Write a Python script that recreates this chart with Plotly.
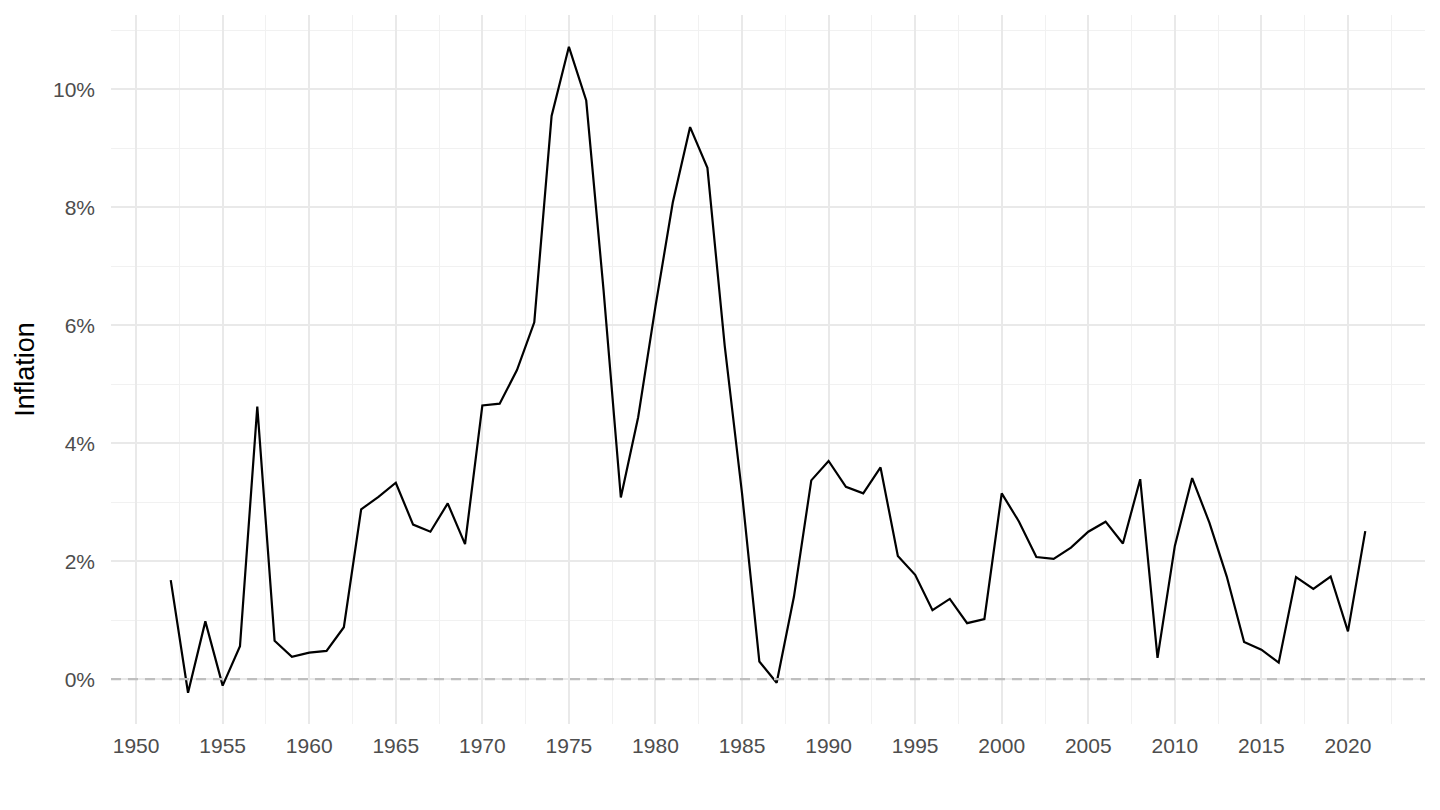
import plotly.graph_objects as go

# annual inflation, percent
years = list(range(1952, 2022))
inflation = [
    1.68, -0.23, 0.98, -0.11, 0.56, 4.62, 0.65, 0.38,          # 1952-1959
    0.45, 0.48, 0.88, 2.88, 3.09, 3.33, 2.62, 2.50, 2.98, 2.29,  # 1960s
    4.64, 4.67, 5.24, 6.05, 9.55, 10.72, 9.81, 6.60, 3.08, 4.44, # 1970s
    6.32, 8.08, 9.36, 8.67, 5.65, 3.15, 0.30, -0.06, 1.40, 3.37, # 1980s
    3.70, 3.26, 3.15, 3.59, 2.09, 1.77, 1.17, 1.36, 0.95, 1.02,  # 1990s
    3.15, 2.67, 2.07, 2.04, 2.23, 2.50, 2.67, 2.30, 3.39, 0.36,  # 2000s
    2.26, 3.41, 2.65, 1.74, 0.63, 0.50, 0.28, 1.73, 1.53, 1.74,  # 2010s
    0.81, 2.51,                                                  # 2020-2021
]

MAJOR = "#e9e9e9"
MINOR = "#f1f1f1"
FONT = "Liberation Sans, Arial, sans-serif"
TICK_FONT = dict(family=FONT, size=21, color="#4d4d4d")

fig = go.Figure()
fig.add_trace(go.Scatter(
    x=years, y=inflation, mode="lines",
    line=dict(color="black", width=2.2),
    showlegend=False,
))

# dashed reference line at 0 % (drawn above, otherwise the 0 % gridline hides it)
fig.add_hline(y=0, line=dict(color="#bebebe", width=2.2, dash="10px,7px"), layer="above")

# the page body adds an 8px margin, so the figure is a bit smaller than the window
fig.update_layout(
    width=1432, height=802,
    paper_bgcolor="white", plot_bgcolor="white",
    margin=dict(l=103, r=15, t=7, b=86),
    xaxis=dict(
        range=[1948.55, 2024.45],
        tick0=1950, dtick=5,
        showgrid=True, gridcolor=MAJOR, gridwidth=1.8,
        minor=dict(dtick=2.5, showgrid=True, gridcolor=MINOR, gridwidth=1.1),
        zeroline=False, showline=False, ticks="",
        tickfont=TICK_FONT, ticklabelstandoff=7,
    ),
    yaxis=dict(
        range=[-0.76, 11.26],
        tick0=0, dtick=2, ticksuffix="%",
        showgrid=True, gridcolor=MAJOR, gridwidth=1.8,
        minor=dict(dtick=1, showgrid=True, gridcolor=MINOR, gridwidth=1.1),
        zeroline=False, showline=False, ticks="",
        tickfont=TICK_FONT, ticklabelstandoff=15,
        title=dict(text="Inflation", standoff=10,
                   font=dict(family=FONT, size=27, color="black")),
    ),
)

fig.write_html("out.html")
